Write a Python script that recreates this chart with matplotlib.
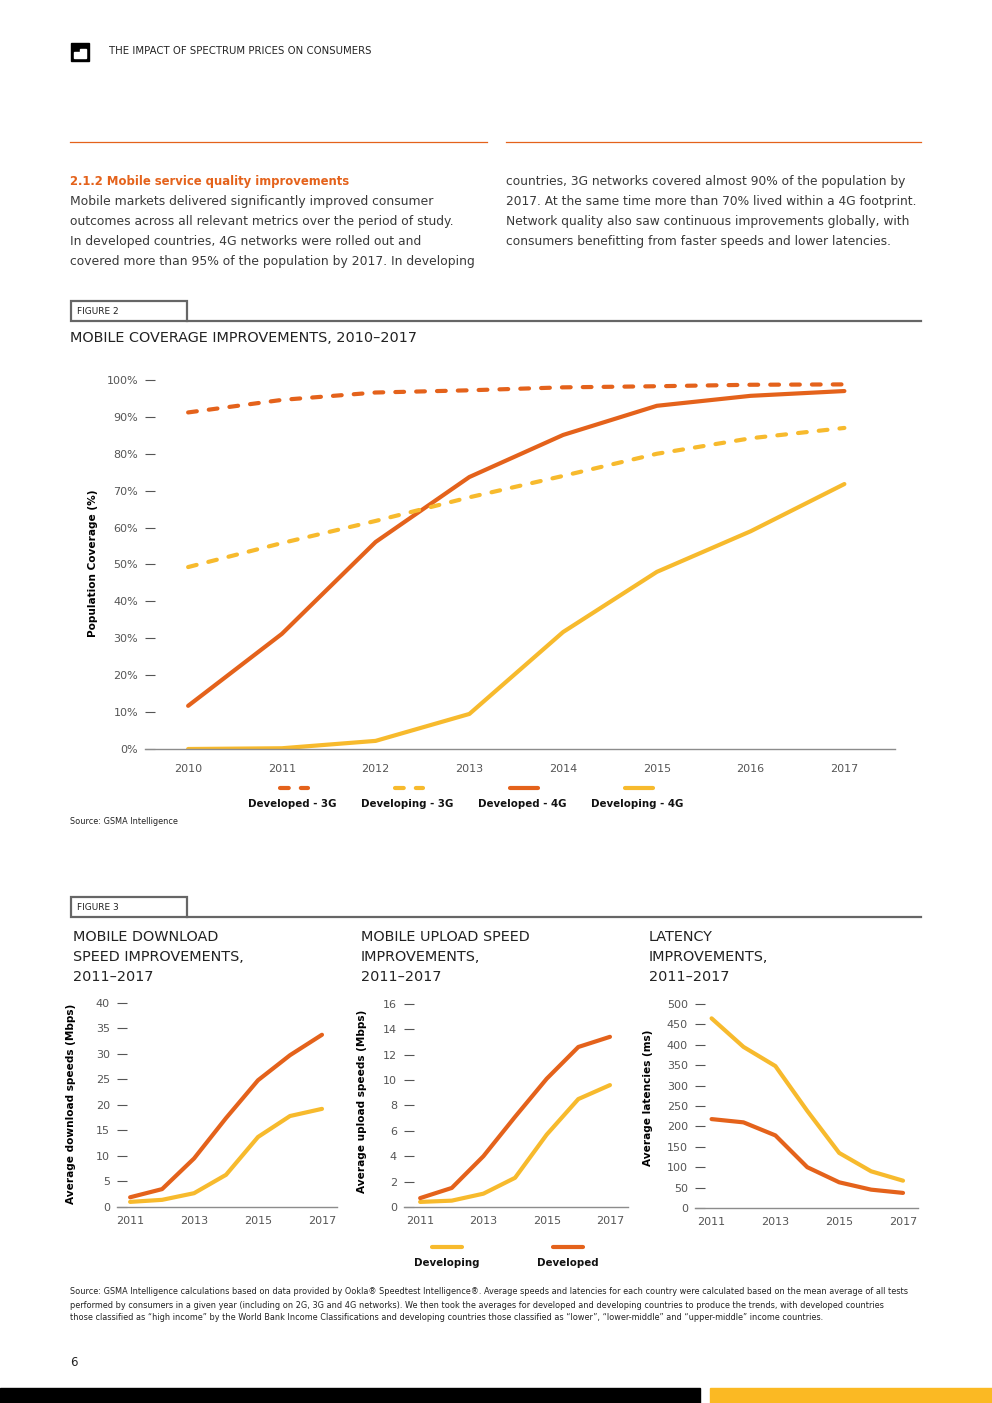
import matplotlib
matplotlib.use("Agg")
import matplotlib.pyplot as plt
from matplotlib.lines import Line2D
from matplotlib.patches import Rectangle, Polygon

plt.rcParams['font.family'] = ['DejaVu Sans']

ORANGE = '#E4621B'
YELLOW = '#F7BA2D'
GREY = '#666666'
TXT = '#3a3a3a'

# figure 2 data (population coverage, %)
years_cov = [2010, 2011, 2012, 2013, 2014, 2015, 2016, 2017]
developed_3g = [91.2, 94.6, 96.6, 97.2, 98.0, 98.3, 98.7, 98.8]
developing_3g = [49.3, 55.8, 61.8, 68.2, 74.0, 80.0, 84.2, 87.0]
developed_4g = [11.7, 31.2, 56.1, 73.7, 85.1, 93.0, 95.7, 97.0]
developing_4g = [0.0, 0.2, 2.2, 9.5, 31.7, 48.0, 59.0, 71.8]
cov_yticks = [0, 10, 20, 30, 40, 50, 60, 70, 80, 90, 100]

# figure 3 data
years_q = [2011, 2012, 2013, 2014, 2015, 2016, 2017]
dl_developed = [1.9, 3.5, 9.5, 17.4, 24.8, 29.7, 33.7]
dl_developing = [1.0, 1.4, 2.7, 6.3, 13.7, 17.8, 19.2]
ul_developed = [0.7, 1.5, 4.0, 7.1, 10.1, 12.6, 13.4]
ul_developing = [0.4, 0.5, 1.05, 2.3, 5.7, 8.5, 9.6]
lat_developed = [218, 210, 178, 100, 63, 45, 37]
lat_developing = [465, 395, 348, 238, 135, 90, 67]
q_xticks = [2011, 2013, 2015, 2017]

W, H = 992, 1403
fig = plt.figure(figsize=(W / 100, H / 100), dpi=100)

page = fig.add_axes([0, 0, 1, 1])
page.set_xlim(0, W)
page.set_ylim(H, 0)
page.axis('off')


def box(l, t, r, b):
    return [l / W, 1 - b / H, (r - l) / W, (b - t) / H]


DASH = (0, (2.1, 2.9))


def style(ax, xlim, ylim, yticks, xticks, xpad):
    ax.set_xlim(xlim)
    ax.set_ylim(ylim)
    ax.patch.set_alpha(0)
    for s in ['top', 'right', 'left']:
        ax.spines[s].set_visible(False)
    ax.spines['bottom'].set_color('#8c8c8c')
    ax.spines['bottom'].set_linewidth(1)
    ax.set_yticks(yticks)
    ax.set_xticks(xticks)
    ax.tick_params(axis='y', direction='in', length=7, width=0.8, color='#555555',
                   labelcolor='#555555', labelsize=8, pad=5)
    ax.tick_params(axis='x', length=0, pad=xpad, labelcolor='#555555', labelsize=8)


# ---- header ----
page.add_patch(Rectangle((71, 43), 18, 18, color='black'))
page.add_patch(Polygon([(74, 58), (74, 52), (80, 52), (80, 49), (86, 49), (86, 58)],
                       closed=True, color='white'))
page.text(109, 51, 'THE IMPACT OF SPECTRUM PRICES ON CONSUMERS', fontsize=7.3,
          color='#222222', va='center')

page.plot([70, 487], [142, 142], color=ORANGE, lw=0.9)
page.plot([506, 921], [142, 142], color=ORANGE, lw=0.9)

page.text(70, 181, '2.1.2 Mobile service quality improvements', fontsize=8.4, color=ORANGE,
          fontweight='bold', va='center')
left_col = ['Mobile markets delivered significantly improved consumer',
            'outcomes across all relevant metrics over the period of study.',
            'In developed countries, 4G networks were rolled out and',
            'covered more than 95% of the population by 2017. In developing']
right_col = ['countries, 3G networks covered almost 90% of the population by',
             '2017. At the same time more than 70% lived within a 4G footprint.',
             'Network quality also saw continuous improvements globally, with',
             'consumers benefitting from faster speeds and lower latencies.']
for i, s in enumerate(left_col):
    page.text(70, 201 + 20 * i, s, fontsize=8.95, color=TXT, va='center')
for i, s in enumerate(right_col):
    page.text(506, 181 + 20 * i, s, fontsize=8.85, color=TXT, va='center')


def figure_tag(y, label):
    page.add_patch(Rectangle((71, y), 116, 20, fill=False, ec=GREY, lw=1.6))
    page.plot([187, 921], [y + 20, y + 20], color=GREY, lw=1.6)
    page.text(77, y + 11, label, fontsize=6.5, color='#222222', va='center')


# ---- figure 2 ----
figure_tag(301, 'FIGURE 2')
page.text(70, 338, 'MOBILE COVERAGE IMPROVEMENTS, 2010\u20132017', fontsize=10.4,
          color='#222222', va='center')

ax = fig.add_axes(box(145, 370, 895, 749))
style(ax, (2009.54, 2017.54), (0, 102.7), cov_yticks, years_cov, 10.5)
ax.set_yticklabels([f'{v}%' for v in cov_yticks])
ax.plot(years_cov, developing_4g, color=YELLOW, lw=3, solid_capstyle='round')
ax.plot(years_cov, developed_4g, color=ORANGE, lw=3, solid_capstyle='round')
ax.plot(years_cov, developing_3g, color=YELLOW, lw=3, ls=DASH, dash_capstyle='round')
ax.plot(years_cov, developed_3g, color=ORANGE, lw=3, ls=DASH, dash_capstyle='round')
ax.set_ylabel('Population Coverage (%)', fontsize=7.6, fontweight='bold', color='black')
ax.yaxis.set_label_coords(-0.063, 0.49)

legend2 = [('Developed - 3G', ORANGE, DASH, 294),
           ('Developing - 3G', YELLOW, DASH, 409),
           ('Developed - 4G', ORANGE, '-', 524),
           ('Developing - 4G', YELLOW, '-', 639)]
for name, c, ls, cx in legend2:
    page.add_line(Line2D([cx - 14, cx + 14], [788, 788], color=c, lw=3, ls=ls,
                         dash_capstyle='round', solid_capstyle='round'))
    page.text(cx - 2, 804, name, fontsize=7.4, fontweight='bold', color='#111111',
              ha='center', va='center')

page.text(70, 822, 'Source: GSMA Intelligence', fontsize=5.9, color='#222222', va='center')

# ---- figure 3 ----
figure_tag(897, 'FIGURE 3')
titles = [(73, ['MOBILE DOWNLOAD', 'SPEED IMPROVEMENTS,', '2011\u20132017']),
          (361, ['MOBILE UPLOAD SPEED', 'IMPROVEMENTS,', '2011\u20132017']),
          (649, ['LATENCY', 'IMPROVEMENTS,', '2011\u20132017'])]
for x0, lines in titles:
    for i, s in enumerate(lines):
        page.text(x0, 937 + 20 * i, s, fontsize=10.4, color='#222222', va='center')

panels = [
    ((117, 1000, 337, 1207), (2010.59, 2017.47), (0, 40.5), range(0, 41, 5),
     dl_developing, dl_developed, 'Average download speeds (Mbps)', (-0.186, 0.50)),
    ((404, 1000, 628, 1207), (2010.49, 2017.57), (0, 16.3), range(0, 17, 2),
     ul_developing, ul_developed, 'Average upload speeds (Mbps)', (-0.165, 0.51)),
    ((695, 1000, 918, 1208), (2010.48, 2017.47), (0, 510), range(0, 501, 50),
     lat_developing, lat_developed, 'Average latencies (ms)', (-0.19, 0.53)),
]
for rect, xl, yl, yt, dev_ing, dev_ed, ylab, lc in panels:
    a = fig.add_axes(box(*rect))
    style(a, xl, yl, list(yt), q_xticks, 6.8)
    a.plot(years_q, dev_ing, color=YELLOW, lw=3, solid_capstyle='round')
    a.plot(years_q, dev_ed, color=ORANGE, lw=3, solid_capstyle='round')
    a.set_ylabel(ylab, fontsize=7.6, fontweight='bold', color='black')
    a.yaxis.set_label_coords(*lc)

for name, c, cx in [('Developing', YELLOW, 447), ('Developed', ORANGE, 568)]:
    page.add_line(Line2D([cx - 15, cx + 15], [1247, 1247], color=c, lw=3,
                         solid_capstyle='round'))
    page.text(cx, 1263, name, fontsize=7.4, fontweight='bold', color='#111111',
              ha='center', va='center')

notes = ['Source: GSMA Intelligence calculations based on data provided by Ookla\u00ae Speedtest Intelligence\u00ae. '
         'Average speeds and latencies for each country were calculated based on the mean average of all tests',
         'performed by consumers in a given year (including on 2G, 3G and 4G networks). We then took the averages '
         'for developed and developing countries to produce the trends, with developed countries',
         'those classified as \u201chigh income\u201d by the World Bank Income Classifications and developing countries '
         'those classified as \u201clower\u201d, \u201clower-middle\u201d and \u201cupper-middle\u201d income countries.']
for i, s in enumerate(notes):
    page.text(70, 1292 + 13 * i, s, fontsize=5.9, color='#222222', va='center')

# ---- footer ----
page.text(70, 1363, '6', fontsize=8.5, color='#222222', va='center')
page.add_patch(Rectangle((0, 1388), 700, 15, color='black'))
page.add_patch(Rectangle((710, 1388), 282, 15, color='#FBB923'))

fig.savefig('out.png', dpi=100)
